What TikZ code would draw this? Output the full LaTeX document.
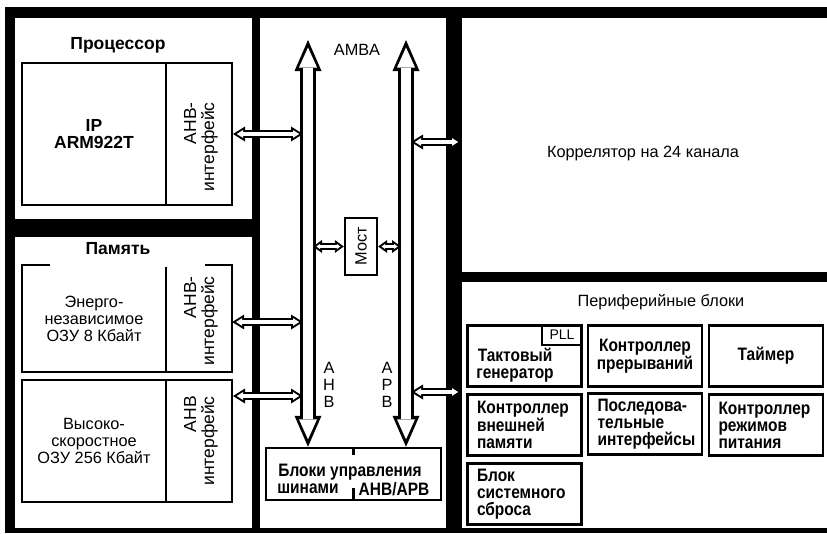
\documentclass[tikz,border=0pt]{standalone}
\usepackage{fontspec}
\setmainfont{Liberation Sans}
\newfontfamily\condfont{Liberation Sans}[FakeStretch=0.86]
\usetikzlibrary{arrows.meta, positioning}
\tikzset{
  % pannelli bianchi su fondo nero
  panel/.style={fill=white, inner sep=0pt, anchor=north west},
  % blocchi
  blk/.style={draw, line width=2pt, inner sep=0pt},
  pblk/.style={draw, line width=2.6pt, inner sep=0pt, minimum width=114, minimum height=61},
  % testi
  lbl/.style={font=\fontsize{16.3}{17}\selectfont, align=center},
  blbl/.style={font=\condfont\fontsize{18}{17}\selectfont\bfseries, align=center},
  tbl/.style={font=\fontsize{17.5}{17}\selectfont\bfseries, align=center},
  vlbl/.style={font=\fontsize{17.5}{18}\selectfont, align=right, rotate=90},
  ltxt/.style={blbl, align=left, text width=95},
  % frecce cave
  link/.style={white, line width=4pt,
    {Triangle[length=6.2pt,width=7.8pt,line width=0pt]}-{Triangle[length=6.2pt,width=7.8pt,line width=0pt]},
    shorten <=3.8pt, shorten >=3.8pt,
    preaction={draw=black, line width=8.5pt, shorten <=0pt, shorten >=0pt,
      {Triangle[length=12pt,width=15pt,line width=0pt]}-{Triangle[length=12pt,width=15pt,line width=0pt]}}},
  slink/.style={white, line width=3pt,
    {Triangle[length=3.6pt,width=5.2pt,line width=0pt]}-{Triangle[length=3.6pt,width=5.2pt,line width=0pt]},
    shorten <=3.4pt, shorten >=3.4pt,
    preaction={draw=black, line width=7.5pt, shorten <=0pt, shorten >=0pt,
      {Triangle[length=9pt,width=13pt,line width=0pt]}-{Triangle[length=9pt,width=13pt,line width=0pt]}}},
  bus/.style={white, line width=10pt,
    {Triangle[length=20pt,width=18pt,line width=0pt]}-{Triangle[length=20pt,width=18pt,line width=0pt]},
    shorten <=7.5pt, shorten >=7.5pt,
    preaction={draw=black, line width=16pt, shorten <=0pt, shorten >=0pt,
      {Triangle[length=31pt,width=27pt,line width=0pt]}-{Triangle[length=31pt,width=27pt,line width=0pt]}}}
}

\begin{document}
\begin{tikzpicture}[x=1pt,y=-1pt]
  \useasboundingbox (0,0) rectangle (827,533);
  \fill (5,7) rectangle (827,533);
  % pannelli
  \node[panel, minimum width=237, minimum height=201] (procp) at (15,18) {};
  \node[panel, minimum width=237, minimum height=291] (memp) at (15,237) {};
  \node[panel, minimum width=186, minimum height=510] (ambap) at (260,18) {};
  \node[panel, minimum width=365, minimum height=254] (corr) at (462,18) {};
  \node[panel, minimum width=365, minimum height=246] (periph) at (462,282) {};

  % processore
  \node[tbl] (proct) at (118,45) {Процессор};
  \node[blk, tbl, minimum width=144, minimum height=142] (cpu) at (94,134) {IP\\ARM922T};
  \node[blk, minimum width=66, minimum height=142] (cpuif) at (199,134) {};
  \node[vlbl] (cpuift) at (201,147) {АНВ-\\интерфейс};

  % memoria
  \node[tbl] (memt) at (118,249) {Память};
  \node[lbl, minimum width=144, minimum height=107] (nvram) at (94,318.5) {Энерго-\\независимое\\ОЗУ 8 Кбайт};
  \node[minimum width=66, minimum height=107, inner sep=0pt] (nvif) at (199,318.5) {};
  \draw[line width=2pt] ([xshift=28pt]nvram.north west) -- (nvram.north west) -- (nvram.south west)
    -- (nvif.south east) -- (nvif.north east) -- ([xshift=-27pt]nvif.north east);
  \draw[line width=2pt] ([yshift=-2pt]nvram.north east) -- (nvram.south east);
  \node[vlbl] (nvift) at (201,321) {АНВ-\\интерфейс};
  \node[blk, lbl, minimum width=144, minimum height=122] (hsram) at (94,441) {Высоко-\\скоростное\\ОЗУ 256 Кбайт};
  \node[blk, minimum width=66, minimum height=122] (hsif) at (199,441) {};
  \node[vlbl] (hsift) at (201,441) {АНВ\\интерфейс};

  % AMBA
  \node[lbl] (ambat) at (357,50) {AMBA};
  \node[blk, line width=2.4pt, minimum width=175, minimum height=52] (ctrl) at (353.5,474) {};
  \draw[line width=2.4pt] (ctrl.north) -- ++(0,8) (ctrl.south) -- ++(0,-13);
  \node[blbl] (ctrlt) at (350,472) {Блоки управления};
  \node[blbl] (ctrla) at (308,489) {шинами};
  \node[blbl] (ctrlb) at (394,489) {АНВ/АРВ};
  \coordinate (ahbtop) at (308,40);
  \coordinate (apbtop) at (406,40);
  \coordinate (ahbL) at ([xshift=-5pt]ahbtop);
  \coordinate (ahbR) at ([xshift=5pt]ahbtop);
  \coordinate (apbL) at ([xshift=-5pt]apbtop);
  \coordinate (apbR) at ([xshift=5pt]apbtop);
  \draw[bus] (ahbtop) -- (ahbtop |- ctrl.north);
  \draw[bus] (apbtop) -- (apbtop |- ctrl.north);
  \node[lbl] (ahbt) at (329,385) {А\\Н\\В};
  \node[lbl] (apbt) at (387,385) {А\\Р\\В};
  \node[blk, line width=2.4pt, lbl, rotate=90, minimum width=57, minimum height=32] (bridge) at (361,246.5) {Мост};

  % correlatore e periferiche
  \node[lbl] (corrt) at (643,153) {Коррелятор на 24 канала};
  \node[lbl] (periphp) at (661,302) {Периферийные блоки};
  \node[pblk] (clk) at (524.5,356) {};
  \node[blbl] (clkt) at (515,365) {Тактовый\\генератор};
  \node[draw, line width=1.6pt, anchor=north east, minimum width=40, minimum height=20, inner sep=0pt,
    font=\fontsize{14}{14}\selectfont] (pll) at (clk.north east) {PLL};
  \node[pblk, blbl] (irq) at (645,356) {Контроллер\\прерываний};
  \node[pblk, blbl] (tmr) at (766,356) {Таймер};
  \node[pblk, ltxt] (emc) at (524.5,425) {Контроллер\\внешней\\памяти};
  \node[pblk, ltxt] (ser) at (645,424) {Последова-\\тельные\\интерфейсы};
  \node[pblk, ltxt] (pwr) at (766,425) {Контроллер\\режимов\\питания};
  \node[pblk, ltxt] (rst) at (524.5,494) {Блок\\системного\\сброса};

  % collegamenti
  \coordinate (nvport) at ([yshift=-3.5pt]nvif.east);
  \coordinate (hsport) at ([yshift=-17pt]hsif.north east);
  \coordinate (cport) at ([yshift=-124pt]corr.north west);
  \coordinate (pport) at ([yshift=-110pt]periph.north west);
  \draw[link] (cpuif.east) -- (cpuif.east -| ahbL);
  \draw[link] (nvport) -- (nvport -| ahbL);
  \draw[link] (hsport) -- (hsport -| ahbL);
  \draw[slink] (bridge.north -| ahbR) -- (bridge.north);
  \draw[slink] (bridge.south) -- (bridge.south -| apbL);
  \draw[link] (cport -| apbR) -- (cport);
  \draw[link] (pport -| apbR) -- (pport);
\end{tikzpicture}
\end{document}
